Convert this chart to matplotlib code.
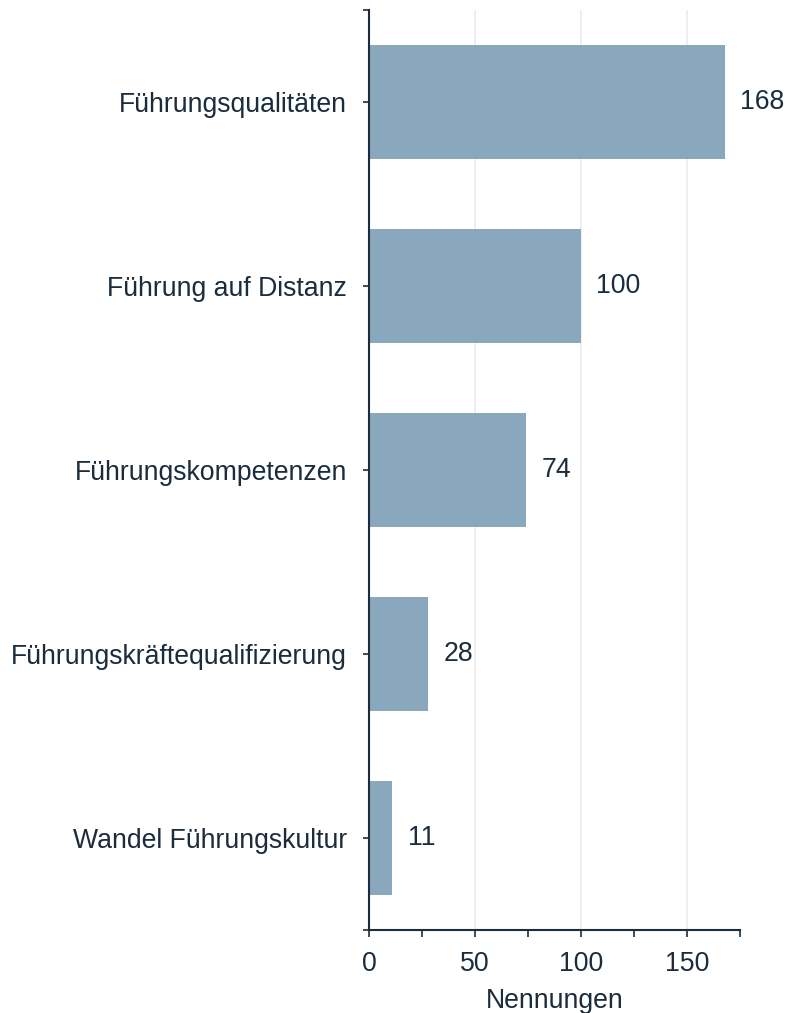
import matplotlib
matplotlib.use("Agg")
import matplotlib.pyplot as plt
from matplotlib.ticker import MultipleLocator

# data, top to bottom
categories = ["Führungsqualitäten", "Führung auf Distanz", "Führungskompetenzen",
              "Führungskräftequalifizierung", "Wandel Führungskultur"]
values = [168, 100, 74, 28, 11]
x_ticks = [0, 50, 100, 150]

TEXT = "#1b2d3d"
BAR = "#8aa8bd"

plt.rcParams["font.family"] = ["Liberation Sans", "DejaVu Sans"]
plt.rcParams["font.size"] = 19.2

fig = plt.figure(figsize=(7.85, 10.13), dpi=100)
ax = fig.add_axes([369 / 785, 1 - 930 / 1013, (740 - 369) / 785, (930 - 10) / 1013])

pos = list(range(len(categories)))[::-1]
ax.barh(pos, values, height=0.62, color=BAR, zorder=2)

for p, v in zip(pos, values):
    ax.annotate(str(v), (v, p), xytext=(11, 0), textcoords="offset points",
                ha="left", va="center", color=TEXT, fontsize=19.2)

ax.set_xlim(0, 175)
ax.set_ylim(-0.5, len(categories) - 0.5)
ax.set_yticks(pos)
ax.set_yticklabels(categories)
ax.set_xticks(x_ticks)
ax.xaxis.set_minor_locator(MultipleLocator(25))
ax.set_yticks([-0.5, len(categories) - 0.5], minor=True)

ax.grid(axis="x", which="major", color="#ebebeb", linewidth=1.2, zorder=0)
ax.set_axisbelow(True)

for side in ["top", "right"]:
    ax.spines[side].set_visible(False)
for side in ["left", "bottom"]:
    ax.spines[side].set_color(TEXT)
    ax.spines[side].set_linewidth(1.5)

ax.tick_params(axis="y", which="both", length=4, width=1.2, color=TEXT,
               labelcolor=TEXT, pad=12)
ax.tick_params(axis="x", which="both", length=5, width=1.2, color=TEXT,
               labelcolor=TEXT, pad=10)
ax.set_xlabel("Nennungen", color=TEXT, labelpad=8)

fig.savefig("out.png", dpi=100)
